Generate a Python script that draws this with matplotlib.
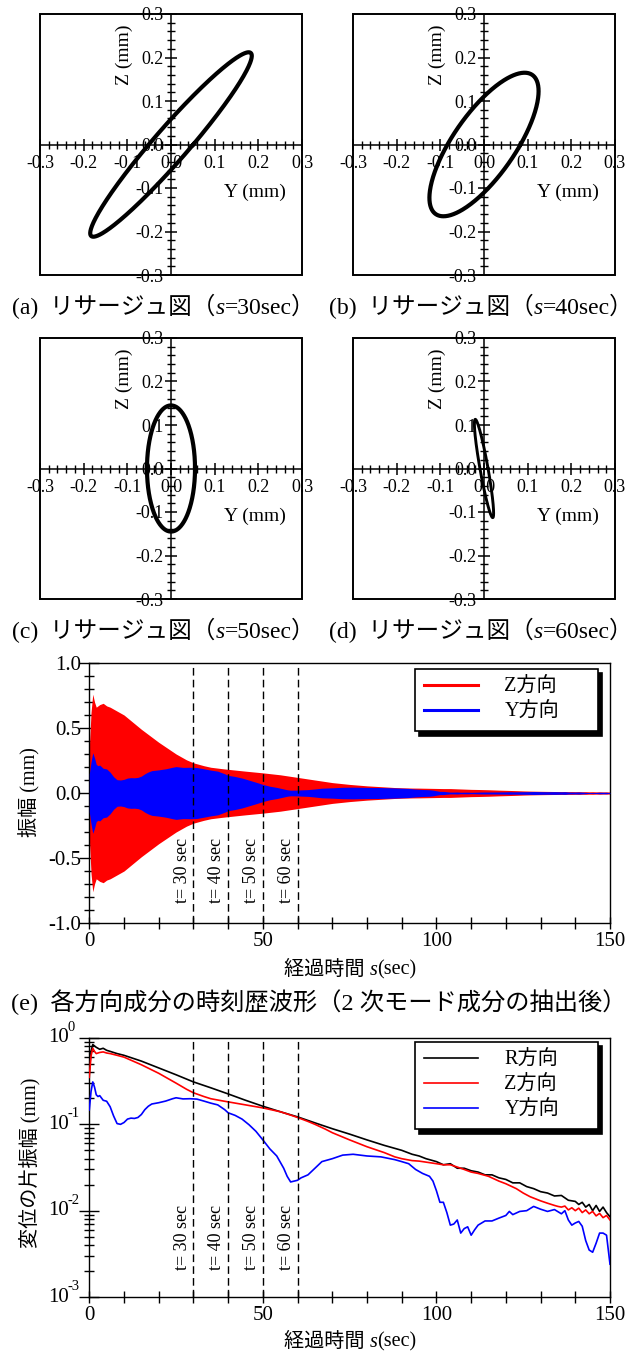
import numpy as np
import matplotlib
matplotlib.use("Agg")
import matplotlib.pyplot as plt
from matplotlib.lines import Line2D
from matplotlib.patches import Rectangle
from matplotlib.offsetbox import TextArea, HPacker, AnchoredOffsetbox
from matplotlib.ticker import MultipleLocator, FormatStrFormatter, LogLocator, NullFormatter
import matplotlib.transforms as mtransforms

plt.rcParams["font.family"] = ["Liberation Serif", "Noto Sans CJK JP"]
plt.rcParams["axes.unicode_minus"] = False

# --- リサージュ図 (s = 30, 40, 50, 60 sec) ---
LISSA_SEC = [30, 40, 50, 60]
LISSA_TAGS = ["(a)", "(b)", "(c)", "(d)"]
LISSA_Y_AMP = [0.185, 0.125, 0.055, 0.022]   # Y方向振幅 (mm)
LISSA_Z_AMP = [0.212, 0.165, 0.145, 0.113]   # Z方向振幅 (mm)
LISSA_PHASE = [16, 42, 90, 155]              # Y-Z 位相差 (deg)
LISSA_LW = [3.0, 3.0, 3.0, 2.1]
LISSA_TICKS = [-0.3, -0.2, -0.1, 0.0, 0.1, 0.2, 0.3]

# --- 時刻歴 (2次モード成分) ---
MARK_TIMES = [30, 40, 50, 60]
LOG_DECADES = [0, -1, -2, -3]

R_T = [0, 0.5, 1, 2, 3, 4, 5, 6, 8, 10, 15, 20, 25, 30, 35, 40, 45, 50, 55, 60,
       65, 70, 75, 80, 85, 90, 93, 95, 97, 100, 102, 104, 106, 108, 110, 112, 114,
       116, 118, 120, 122, 124, 126, 128, 130, 132, 134, 136, 138, 140, 141, 142,
       143, 144, 145, 146, 147, 148, 149, 150]
R_AMP = [0.40, 0.70, 0.84, 0.78, 0.74, 0.76, 0.72, 0.70, 0.66, 0.63, 0.54, 0.45,
         0.375, 0.31, 0.265, 0.225, 0.19, 0.162, 0.14, 0.122, 0.104, 0.089, 0.077,
         0.066, 0.057, 0.050, 0.045, 0.043, 0.040, 0.037, 0.034, 0.035, 0.031,
         0.031, 0.029, 0.028, 0.026, 0.026, 0.024, 0.023, 0.021, 0.021, 0.019,
         0.018, 0.0166, 0.016, 0.0148, 0.015, 0.0132, 0.0128, 0.0118, 0.0125,
         0.0110, 0.0118, 0.0100, 0.0115, 0.0098, 0.0110, 0.0095, 0.0085]

Z_T = [0, 0.5, 1, 1.5, 2, 3, 4, 5, 6, 8, 10, 15, 20, 25, 28, 30, 33, 35, 38, 40,
       45, 50, 55, 58, 60, 63, 65, 68, 70, 75, 80, 85, 88, 90, 93, 95, 98, 100,
       102, 104, 106, 108, 110, 112, 115, 118, 120, 123, 125, 127, 130, 132, 134,
       135, 136, 137, 138, 139, 140, 141, 142, 143, 144, 145, 146, 147, 148, 149, 150]
Z_AMP = [0.35, 0.62, 0.76, 0.70, 0.66, 0.68, 0.69, 0.67, 0.66, 0.63, 0.60, 0.49,
         0.39, 0.30, 0.255, 0.232, 0.21, 0.198, 0.188, 0.182, 0.168, 0.155, 0.14,
         0.128, 0.120, 0.108, 0.100, 0.088, 0.080, 0.066, 0.055, 0.047, 0.042,
         0.040, 0.038, 0.0375, 0.036, 0.035, 0.034, 0.034, 0.032, 0.030, 0.028,
         0.027, 0.025, 0.022, 0.0205, 0.018, 0.016, 0.0145, 0.013, 0.0122, 0.0115,
         0.0112, 0.0110, 0.0113, 0.0102, 0.0108, 0.0100, 0.0107, 0.0095, 0.0102,
         0.0092, 0.0098, 0.0087, 0.0093, 0.0083, 0.0088, 0.0078]

Y_T = [0, 0.5, 1, 1.5, 2, 2.5, 3, 4, 5, 6, 7, 8, 9, 10, 11, 12, 13, 14, 15, 16,
       17, 18, 20, 22, 24, 25, 27, 29, 31, 33, 35, 37, 39, 40, 42, 44, 46, 48, 50,
       52, 54, 56, 57, 58, 60, 61, 63, 65, 67, 70, 73, 76, 80, 84, 88, 90, 92, 94,
       96, 98, 99, 100, 101, 102, 103, 104, 105, 106, 107, 108, 109, 110, 111,
       112, 114, 116, 118, 120, 121, 122, 124, 126, 128, 130, 132, 134, 136, 137,
       138, 139, 140, 141, 142, 143, 144, 145, 146, 147, 148, 149, 150]
Y_AMP = [0.147, 0.24, 0.31, 0.27, 0.22, 0.21, 0.215, 0.19, 0.185, 0.16, 0.125,
         0.102, 0.100, 0.105, 0.115, 0.118, 0.117, 0.120, 0.130, 0.148, 0.162,
         0.172, 0.178, 0.186, 0.198, 0.203, 0.197, 0.198, 0.196, 0.186, 0.176,
         0.168, 0.148, 0.136, 0.127, 0.115, 0.099, 0.083, 0.066, 0.052, 0.043,
         0.031, 0.025, 0.0215, 0.0225, 0.024, 0.026, 0.031, 0.037, 0.040, 0.044,
         0.045, 0.043, 0.042, 0.039, 0.037, 0.035, 0.030, 0.027, 0.025, 0.022,
         0.017, 0.0125, 0.0125, 0.0095, 0.0068, 0.0070, 0.0078, 0.0055, 0.0062,
         0.0065, 0.0052, 0.0060, 0.0068, 0.0076, 0.0076, 0.0082, 0.0088, 0.0098,
         0.0090, 0.0098, 0.0100, 0.0112, 0.0104, 0.0098, 0.0103, 0.0092, 0.0100,
         0.0078, 0.0068, 0.0072, 0.0075, 0.0066, 0.0045, 0.0035, 0.0033, 0.0042,
         0.0055, 0.0055, 0.0052, 0.0024]

W, H = 638, 1354
fig = plt.figure(figsize=(W / 100, H / 100), dpi=100)


def axes_px(left, top, right, bottom):
    return fig.add_axes([left / W, 1 - bottom / H, (right - left) / W, (bottom - top) / H])


def rich_text(x, y, parts, size):
    areas = [TextArea(s, textprops=dict(fontsize=size, fontstyle="italic" if it else "normal"))
             for s, it in parts]
    box = HPacker(children=areas, pad=0, sep=0, align="baseline")
    fig.add_artist(AnchoredOffsetbox(loc="center", child=box, pad=0, borderpad=0, frameon=False,
                                     bbox_to_anchor=(x, y), bbox_transform=fig.transFigure))


# リサージュ図
lissa_boxes = [(40, 14, 302, 275), (353, 14, 615, 275), (40, 338, 302, 599), (353, 338, 615, 599)]
caption_pos = [(0.257, 0.774), (0.754, 0.774), (0.257, 0.5347), (0.754, 0.5347)]
theta = np.linspace(0, 2 * np.pi, 400)
for i, box in enumerate(lissa_boxes):
    ax = axes_px(*box)
    phi = np.deg2rad(LISSA_PHASE[i])
    ax.plot(LISSA_Y_AMP[i] * np.sin(theta + phi), LISSA_Z_AMP[i] * np.sin(theta),
            color="black", lw=LISSA_LW[i], zorder=3)
    ax.set_xlim(-0.3, 0.3)
    ax.set_ylim(-0.3, 0.3)
    for side in ("top", "right"):
        ax.spines[side].set_visible(False)
    for side in ("left", "bottom"):
        ax.spines[side].set_position(("data", 0))
        ax.spines[side].set_linewidth(1.1)
    ax.add_patch(Rectangle((0, 0), 1, 1, transform=ax.transAxes, fill=False,
                           lw=1.4, edgecolor="black", clip_on=False))
    ax.set_xticks(LISSA_TICKS)
    ax.set_yticks(LISSA_TICKS)
    ax.xaxis.set_minor_locator(MultipleLocator(0.02))
    ax.yaxis.set_minor_locator(MultipleLocator(0.02))
    ax.xaxis.set_major_formatter(FormatStrFormatter("%.1f"))
    ax.yaxis.set_major_formatter(FormatStrFormatter("%.1f"))
    ax.tick_params(which="major", direction="inout", length=9, width=1.1, labelsize=13)
    ax.tick_params(which="minor", direction="inout", length=6, width=1.0)
    ax.tick_params(axis="x", which="major", pad=3)
    ax.tick_params(axis="y", which="major", pad=1)
    ax.text(0.322, 0.843, "Z (mm)", transform=ax.transAxes, rotation=90,
            ha="center", va="center", fontsize=14)
    ax.text(0.82, 0.318, "Y (mm)", transform=ax.transAxes, ha="center", va="center", fontsize=14)
    rich_text(*caption_pos[i], [(f"{LISSA_TAGS[i]}  リサージュ図（", False), ("s", True),
                                (f"={LISSA_SEC[i]}sec）", False)], 17)


def style_time_axes(ax):
    ax.set_xlim(0, 150)
    ax.xaxis.set_major_locator(MultipleLocator(50))
    ax.xaxis.set_minor_locator(MultipleLocator(10))
    for sp in ax.spines.values():
        sp.set_linewidth(1.0)
    ax.tick_params(axis="x", which="both", direction="inout", length=9, width=1.0,
                   labelsize=15, pad=2)
    ax.tick_params(axis="y", which="major", direction="inout", length=14, width=1.0,
                   labelsize=15, pad=-1)
    ax.tick_params(axis="y", which="minor", direction="inout", length=7, width=1.0)
    for t in MARK_TIMES:
        ax.axvline(t, color="black", lw=1.0, ls=(0, (5.5, 3)), zorder=5)


def mark_labels(ax, yfrac):
    trans = mtransforms.blended_transform_factory(ax.transData, ax.transAxes)
    for t in MARK_TIMES:
        ax.annotate(f"t= {t} sec", xy=(t, yfrac), xycoords=trans, xytext=(-2, 0),
                    textcoords="offset points", rotation=90, ha="right", va="bottom",
                    fontsize=13, zorder=6)


def legend_box(ax, handles, labels, top):
    ax.legend(handles, labels, loc="upper right", bbox_to_anchor=(0.625, 0.3, 0.351, top - 0.3),
              mode="expand", fontsize=14.5, handlelength=2.7, handletextpad=1.3,
              borderpad=0.45, labelspacing=0.3, borderaxespad=0, fancybox=False,
              edgecolor="black", framealpha=1,
              shadow={"ox": 3, "oy": -3, "facecolor": "black", "edgecolor": "black", "alpha": 1})
    ax.get_legend().get_frame().set_linewidth(1.2)


# 時刻歴波形
ax1 = axes_px(89.3, 663, 610, 923)
ax1.fill_between(Z_T, -np.array(Z_AMP), Z_AMP, color="#ff0000", lw=0, zorder=2)
ax1.fill_between(Y_T, -np.array(Y_AMP), Y_AMP, color="#0000ff", lw=0, zorder=3)
ax1.set_ylim(-1.0, 1.0)
ax1.yaxis.set_major_locator(MultipleLocator(0.5))
ax1.yaxis.set_minor_locator(MultipleLocator(0.1))
ax1.yaxis.set_major_formatter(FormatStrFormatter("%.1f"))
style_time_axes(ax1)
mark_labels(ax1, 0.077)
legend_box(ax1, [Line2D([], [], color="#ff0000", lw=2.2), Line2D([], [], color="#0000ff", lw=2.2)],
           ["Z方向", "Y方向"], 0.977)
fig.text(0.047, 0.415, "振幅 (mm)", rotation=90, ha="center", va="center", fontsize=14.5)
rich_text(0.549, 0.2836, [("経過時間 ", False), ("s", True), ("(sec)", False)], 14.5)
rich_text(0.5, 0.26, [("(e)  各方向成分の時刻歴波形（2 次モード成分の抽出後）", False)], 17.5)

# 片振幅 (対数)
ax2 = axes_px(89.3, 1038, 610, 1297)
ax2.plot(R_T, R_AMP, color="black", lw=1.2, label="R方向", zorder=3)
ax2.plot(Z_T, Z_AMP, color="#ff0000", lw=1.2, label="Z方向", zorder=3)
ax2.plot(Y_T, Y_AMP, color="#0000ff", lw=1.2, label="Y方向", zorder=3)
ax2.set_yscale("log")
ax2.set_ylim(1e-3, 1.0)
ax2.yaxis.set_major_locator(LogLocator(base=10, numticks=10))
ax2.yaxis.set_minor_locator(LogLocator(base=10, subs=np.arange(2, 10), numticks=10))
ax2.yaxis.set_major_formatter(NullFormatter())
ax2.yaxis.set_minor_formatter(NullFormatter())
style_time_axes(ax2)
mark_labels(ax2, 0.104)
# 10のべき乗ラベル (指数はハイフン表記)
ylab_trans = mtransforms.blended_transform_factory(ax2.transAxes, ax2.transData)
for k in LOG_DECADES:
    ax2.annotate("10", xy=(0, 10.0 ** k), xycoords=ylab_trans, xytext=(-15, 0),
                 textcoords="offset points", ha="right", va="center", fontsize=15,
                 annotation_clip=False)
    ax2.annotate(f"{k}", xy=(0, 10.0 ** k), xycoords=ylab_trans, xytext=(-15.5, 3),
                 textcoords="offset points", ha="left", va="bottom", fontsize=10.5,
                 annotation_clip=False)
h, l = ax2.get_legend_handles_labels()
legend_box(ax2, h, l, 0.985)
fig.text(0.047, 0.141, "変位の片振幅 (mm)", rotation=90, ha="center", va="center", fontsize=14.5)
rich_text(0.549, 0.0089, [("経過時間 ", False), ("s", True), ("(sec)", False)], 14.5)

fig.savefig("out.png", dpi=100)
